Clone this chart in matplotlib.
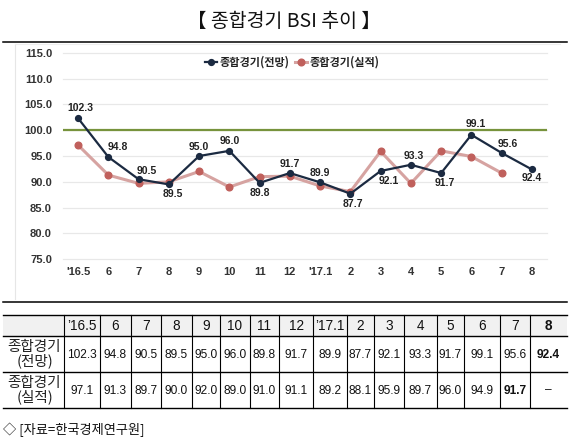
import matplotlib
matplotlib.use('Agg')
import matplotlib.pyplot as plt
from matplotlib import font_manager as fm

# ---------------- data ----------------
categories = ["'16.5", "6", "7", "8", "9", "10", "11", "12", "'17.1",
              "2", "3", "4", "5", "6", "7", "8"]
table_headers = ["’16.5", "6", "7", "8", "9", "10", "11", "12", "’17.1",
                 "2", "3", "4", "5", "6", "7", "8"]
forecast = [102.3, 94.8, 90.5, 89.5, 95.0, 96.0, 89.8, 91.7, 89.9,
            87.7, 92.1, 93.3, 91.7, 99.1, 95.6, 92.4]
actual = [97.1, 91.3, 89.7, 90.0, 92.0, 89.0, 91.0, 91.1, 89.2,
          88.1, 95.9, 89.7, 96.0, 94.9, 91.7]
series_names = ["종합경기(전망)", "종합경기(실적)"]
row_labels = ["종합경기\n(전망)", "종합경기\n(실적)"]
yticks = [75.0, 80.0, 85.0, 90.0, 95.0, 100.0, 105.0, 110.0, 115.0]
ref_level = 100.0
title = "【 종합경기 BSI 추이 】"
source = "◇ [자료=한국경제연구원]"

# label placement (pixel offsets) for forecast labels
label_offsets = [(2, 10), (9, 10), (8, 8), (4, -10), (0, 9), (0, 10), (0, -10),
                 (0, 9), (0, 9), (3, -10), (8, -10), (3, 9), (4, -10), (4, 11),
                 (6, 9), (0, -9)]

# ---------------- fonts ----------------
names = {f.name for f in fm.fontManager.ttflist}
NARROW = 'Liberation Sans Narrow' if 'Liberation Sans Narrow' in names else None
SANS = 'Liberation Sans' if 'Liberation Sans' in names else 'DejaVu Sans'
TAB_FONT = NARROW if NARROW else SANS
TAB_SIZE = 10.5 if NARROW else 8.6
CJK = ['Noto Sans CJK KR', 'DejaVu Sans']

NAVY = '#1b2a41'
ROSE_LINE = '#d6a3a1'
ROSE_MK = '#c0605c'
GREEN = '#77933c'
GRID = '#e8e8e8'
TXT = '#333333'

W, H = 582, 440
fig = plt.figure(figsize=(W / 100, H / 100), dpi=100)

# overlay axes in pixel coordinates
ov = fig.add_axes([0, 0, 1, 1], zorder=0)
ov.set_xlim(0, W)
ov.set_ylim(H, 0)
ov.axis('off')

# title
ov.text(284, 21, title, ha='center', va='center', fontsize=14,
        family=CJK, color='#111111')
# separator lines
ov.plot([3, 567], [41.7, 41.7], color='black', lw=1.1)
ov.plot([3, 567], [302, 302], color='black', lw=1.1)
# faint chart frame
ov.plot([15, 15], [44, 299], color='#e6e6e6', lw=0.8)
ov.plot([15, 560], [44, 44], color='#eeeeee', lw=0.8)

# ---------------- chart ----------------
px = lambda v: v * 0.72  # pixels to points
ax = fig.add_axes([63 / W, (H - 259.3) / H, 484 / W, 206.6 / H], zorder=2)
ax.patch.set_alpha(0)
xs = list(range(len(categories)))
ax.set_xlim(-0.5, len(categories) - 0.5)
ax.set_ylim(yticks[0], yticks[-1])
ax.set_yticks(yticks)
ax.set_yticklabels([f"{v:.1f}" for v in yticks])
ax.set_xticks(xs)
ax.set_xticklabels(categories)
for s in ax.spines.values():
    s.set_visible(False)
ax.grid(axis='y', color=GRID, lw=0.9, clip_on=False)
ax.set_axisbelow(True)
ax.tick_params(length=0)
ax.tick_params(axis='y', pad=px(11))
ax.tick_params(axis='x', pad=px(8))
for lab in ax.get_xticklabels() + ax.get_yticklabels():
    lab.set_fontfamily(SANS)
    lab.set_fontweight('bold')
    lab.set_fontsize(8)
    lab.set_color(TXT)

ax.axhline(ref_level, color=GREEN, lw=1.6, zorder=1.5)
ax.plot(list(range(len(actual))), actual, color=ROSE_LINE, lw=2.2, marker='o',
        ms=4.8, mfc=ROSE_MK, mec=ROSE_MK, label=series_names[1], zorder=3)
ax.plot(xs, forecast, color=NAVY, lw=1.6, marker='o', ms=4.2,
        mfc=NAVY, mec=NAVY, label=series_names[0], zorder=4)

for i, v in enumerate(forecast):
    dx, dy = label_offsets[i]
    ax.annotate(f"{v:.1f}", (i, v), xytext=(px(dx), px(dy)),
                textcoords='offset points', ha='center', va='center',
                fontsize=7.5, fontweight='bold', family=SANS, color='#222222',
                zorder=5)

handles, labels = ax.get_legend_handles_labels()
leg = ax.legend(handles[::-1], labels[::-1], loc='center',
                bbox_to_anchor=((292 - 63) / 484, (259.3 - 62) / 206.6),
                ncol=2, frameon=False, handlelength=1.1, handletextpad=0.2,
                columnspacing=0.5,
                prop=fm.FontProperties(family=CJK, weight='bold', size=8))
for t in leg.get_texts():
    t.set_color('#222222')

# ---------------- table ----------------
col_edges = [64, 100, 131, 161, 192, 220, 250, 279, 313, 347, 374, 404,
             437, 464, 500, 530, 567]
row_edges = [315, 336, 372, 408]
left = 3

# header background
ov.fill_between([left, col_edges[-1]], row_edges[0], row_edges[1],
                color='#f1f1f1', lw=0, zorder=0)
for yv in row_edges:
    ov.plot([left, col_edges[-1]], [yv, yv], color='black', lw=1.0, zorder=2)
for xv in col_edges[:-1]:
    ov.plot([xv, xv], [row_edges[0], row_edges[-1]], color='black', lw=0.8, zorder=2)

def cy(r):
    return (row_edges[r] + row_edges[r + 1]) / 2

ncol = len(table_headers)
for j in range(ncol):
    cx = (col_edges[j] + col_edges[j + 1]) / 2
    ov.text(cx, cy(0) + 0.5, table_headers[j], ha='center', va='center',
            fontsize=TAB_SIZE + 1.2, family=TAB_FONT,
            fontweight='bold' if j == ncol - 1 else 'normal', color='#111111')
    ov.text(cx, cy(1) + 0.5, f"{forecast[j]:.1f}", ha='center', va='center',
            fontsize=TAB_SIZE, family=TAB_FONT,
            fontweight='bold' if j == ncol - 1 else 'normal', color='#111111')
    s = f"{actual[j]:.1f}" if j < len(actual) else "–"
    ov.text(cx, cy(2) + 0.5, s, ha='center', va='center',
            fontsize=TAB_SIZE, family=TAB_FONT,
            fontweight='bold' if j == len(actual) - 1 else 'normal', color='#111111')

for r, lab in enumerate(row_labels):
    ov.text((left + col_edges[0]) / 2 + 1, cy(r + 1), lab, ha='center',
            va='center', fontsize=10.5, family=CJK, linespacing=0.92,
            color='#222222')

ov.text(3, 430, source, ha='left', va='center', fontsize=9.5, family=CJK,
        color='#111111')

fig.savefig('out.png', dpi=100)
